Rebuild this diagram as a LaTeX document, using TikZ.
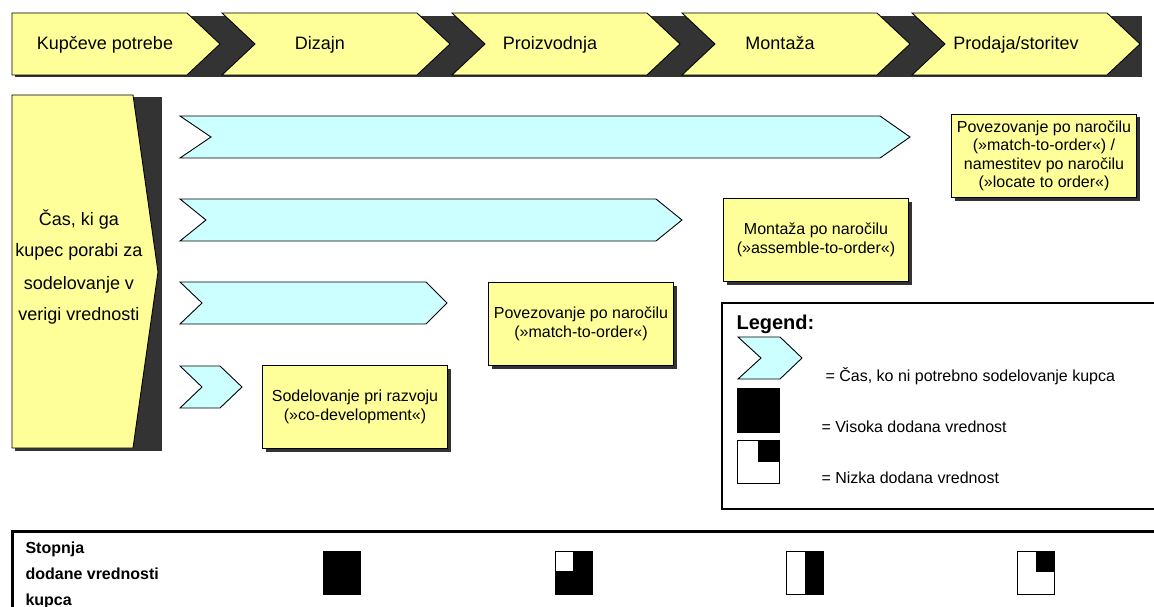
\documentclass[tikz,border=0pt]{standalone}
\usepackage{fontspec}
\setmainfont{Liberation Sans}
\usetikzlibrary{positioning,shadows}
\definecolor{pale-yellow}{HTML}{FFFF99}
\definecolor{pale-cyan}{HTML}{CCFFFF}
\definecolor{band-grey}{HTML}{333333}
\tikzset{
    stage-arrow/.style = {draw=black, fill=pale-yellow, line width=0.9pt, line join=miter},
    stage-text/.style = {anchor=base, font=\fontsize{18}{21}\selectfont},
    time-arrow/.style = {draw=black, fill=pale-cyan, line width=0.9pt},
    order-box/.style = {draw=black, fill=pale-yellow, line width=0.9pt, align=center, minimum width=185pt, minimum height=83pt, inner sep=0pt,
        font=\fontsize{16}{18.5}\selectfont, drop shadow={shadow xshift=3pt, shadow yshift=-3pt, fill=band-grey, opacity=1}},
    legend-text/.style = {anchor=base west, font=\fontsize{16}{19}\selectfont},
    value-square/.style = {draw=black, line width=1pt, fill=white},
}

\begin{document}
\begin{tikzpicture}[x=1pt, y=-1pt]
\useasboundingbox (0,0) rectangle (1154,607);

% stages of the value chain
\fill[band-grey] (15,16) rectangle (1142,77);
\draw[stage-arrow] (12,13) -- (187,13) -- (220,44) -- (187,75) -- (12,75) -- cycle;
\node[stage-text] (stage-0) at (105,50) {Kupčeve potrebe};
\foreach \x/\c/\txt [count=\i] in {222/320/Dizajn, 452/550/Proizvodnja, 682/780/Montaža, 912/1016/{Prodaja/storitev}} {
    \draw[stage-arrow] (\x,13) -- ++(195,0) -- ++(33,31) -- ++(-33,31) -- ++(-195,0) -- ++(33,-31) -- cycle;
    \node[stage-text] (stage-\i) at (\c,50) {\txt};
}

% customer time
\fill[band-grey] (15,97) rectangle (162,451);
\draw[stage-arrow] (12,95) -- (133,95) -- (158,272) -- (133,448) -- (12,448) -- cycle;
\node[font=\fontsize{18}{32}\selectfont, align=center] (customer-time) at (79,267) {Čas, ki ga\\kupec porabi za\\sodelovanje v\\verigi vrednosti};

\foreach \t/\d/\r/\p in {116/31/880/30, 199/26/656/26, 282/22/426/21, 366/22/220/22}
    \draw[time-arrow] (180,\t) -- (\r,\t) -- ++(\p,21) -- ++(-\p,21) -- (180,\t+42) -- ++(\d,-21) -- cycle;

\node[order-box] (co-dev) at (355,407) {Sodelovanje pri razvoju\\(»co-development«)};
\node[order-box] (match) at (581,324) {Povezovanje po naročilu\\(»match-to-order«)};
\node[order-box] (assemble) at (816,240) {Montaža po naročilu\\(»assemble-to-order«)};
\node[order-box] (locate) at (1044,156) {Povezovanje po naročilu\\(»match-to-order«) /\\namestitev po naročilu\\(»locate to order«)};

% legend
\draw[line width=1.5pt] (1156,303) -- (722,303) -- (722,509) -- (1156,509);
\node[anchor=base west, font=\bfseries\fontsize{20}{24}\selectfont] (legend-title) at (733,329) {Legend:};
\draw[time-arrow] (738,337) -- (780,337) -- (802,358) -- (780,379) -- (738,379) -- (761,358) -- cycle;
\node[legend-text] (legend-time) at (822,381) {= Čas, ko ni potrebno sodelovanje kupca};
\draw[value-square, fill=black] (737,388) rectangle (779,432);
\node[legend-text] (legend-high) at (818,432) {= Visoka dodana vrednost};
\draw[value-square] (737,440) rectangle (779,483);
\fill (758,440) rectangle (779,462);
\node[legend-text] (legend-low) at (818,483) {= Nizka dodana vrednost};

% value added for the customer
\draw[line width=3pt] (12,609) -- (12,531) -- (1156,531);
\node[anchor=west, align=left, font=\bfseries\fontsize{16}{26}\selectfont] (value-label) at (22,575) {Stopnja\\dodane vrednosti\\kupca};
\draw[value-square, fill=black] (323,551) rectangle ++(37,43);
\draw[value-square, fill=black] (555,551) rectangle ++(37,43);
\fill[white] (556,552) rectangle ++(17,19);
\draw[value-square] (786,551) rectangle ++(37,43);
\fill (805,551) rectangle ++(18,43);
\draw[value-square] (1017,551) rectangle ++(37,43);
\fill (1036,551) rectangle ++(18,21);
\end{tikzpicture}
\end{document}
